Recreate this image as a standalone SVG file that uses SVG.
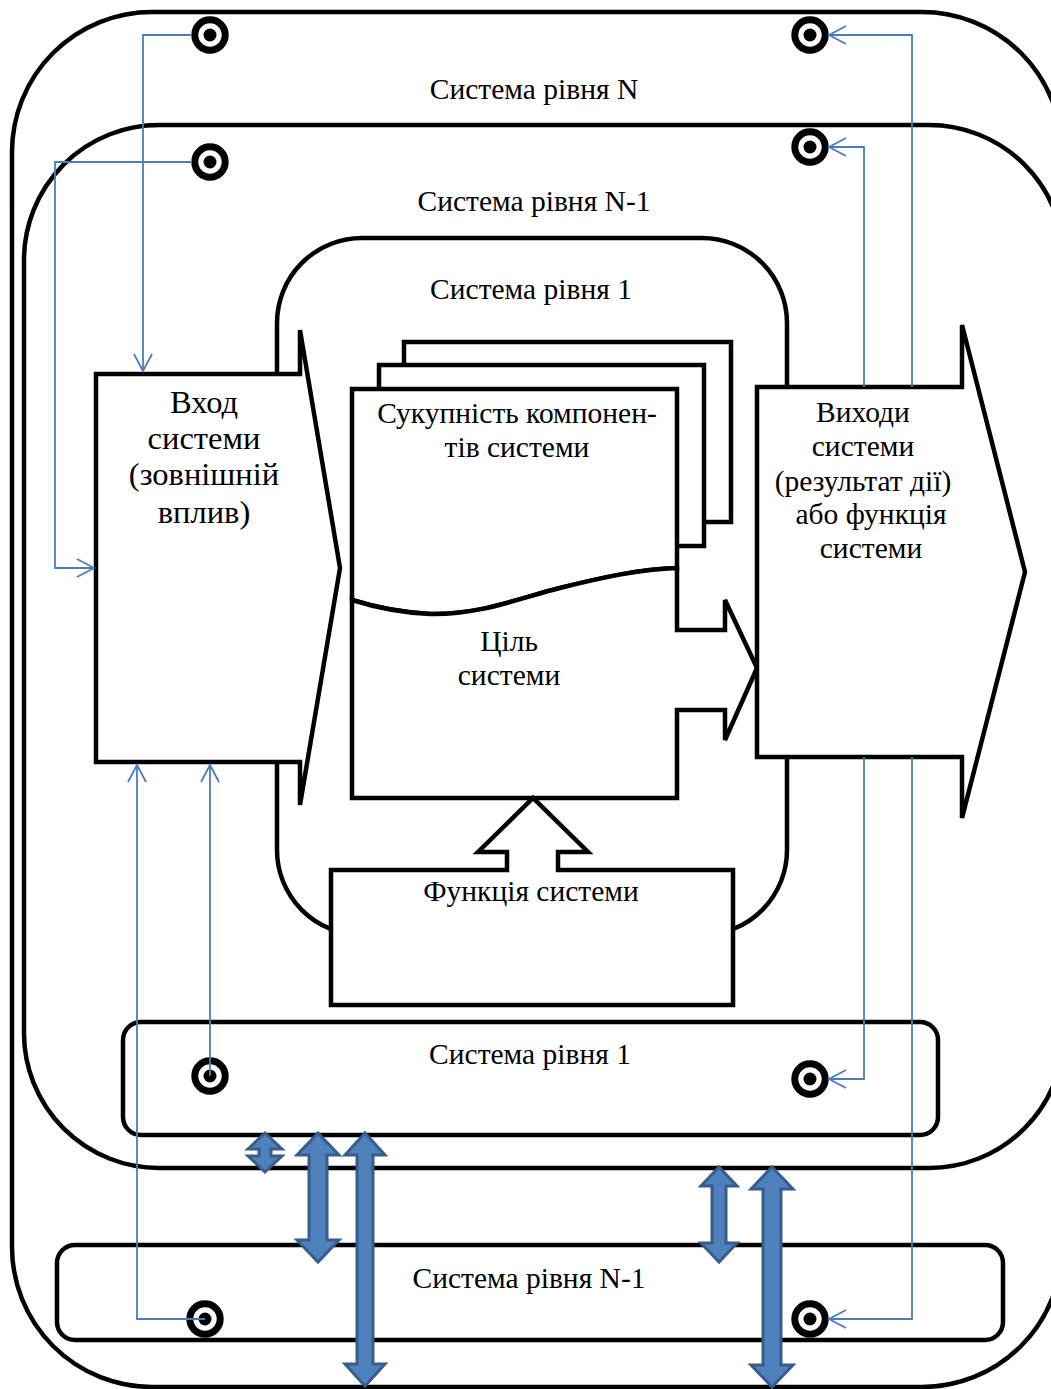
<svg xmlns="http://www.w3.org/2000/svg" width="1051" height="1389" viewBox="0 0 1051 1389">
<defs>
<style>
.b{fill:#fff;stroke:#000;stroke-width:4.5;stroke-linejoin:miter}
.c{fill:none;stroke:#4a7ebb;stroke-width:1.8}
.d{fill:#4f81bd;stroke:#385d8a;stroke-width:3;stroke-linejoin:miter}
.t{font-family:"Liberation Serif","Times New Roman",serif;font-size:29.5px;fill:#000;text-anchor:middle}
.L{font-size:32.5px}
</style>
<marker id="ah" viewBox="-20 -11 22 22" refX="0" refY="0" markerWidth="22" markerHeight="22" markerUnits="userSpaceOnUse" orient="auto">
<path d="M-17,-9 L0,0 L-17,9" fill="none" stroke="#4a7ebb" stroke-width="1.8"/>
</marker>
<g id="term">
<circle r="15.2" fill="#fff" stroke="#000" stroke-width="7"/>
<circle r="6.5" fill="#000"/>
</g>
</defs>
<rect width="1051" height="1389" fill="#fff"/>

<g id="sysN"><rect class="b" x="12" y="12" width="1050" height="1375" rx="140"/></g>
<g id="sysN1"><rect class="b" x="24" y="125" width="1040" height="1043" rx="135"/></g>
<g id="bar1"><rect class="b" x="123" y="1022" width="815" height="113" rx="18"/></g>
<g id="barN1"><rect class="b" x="57" y="1245" width="946" height="95" rx="18"/></g>
<g id="sys1"><rect class="b" x="277" y="238" width="510" height="697" rx="85"/></g>

<g id="components">
<rect class="b" x="404" y="342" width="327" height="180"/>
<rect class="b" x="379" y="365" width="325" height="181"/>
<path class="b" d="M352,389 H677 V568 C640,569 600,578 560,588 C520,598 480,615 430,614 Q390,612 352,600 Z"/>
</g>
<g id="goal">
<path class="b" d="M352,600 Q390,612 430,614 C480,615 520,598 560,588 C600,578 640,569 677,568 V630 H725 V600 L757,668 L725,740 V710 H677 V798 H352 Z"/>
</g>
<g id="input"><path class="b" d="M96,374 H300 V330 L340,568 L300,805 V762 H96 Z"/></g>
<g id="output"><path class="b" d="M757,387 H962 V325 L1025,572 L962,818 V757 H757 Z"/></g>
<g id="function"><path class="b" d="M331,870 H507 V852 H478 L533,798 L588,852 H558 V870 H733 V1005 H331 Z"/></g>

<g id="terminals">
<use href="#term" x="210" y="35"/>
<use href="#term" x="810" y="35"/>
<use href="#term" x="210" y="162"/>
<use href="#term" x="810" y="147"/>
<use href="#term" x="210" y="1076"/>
<use href="#term" x="810" y="1079"/>
<use href="#term" x="205" y="1319"/>
<use href="#term" x="810" y="1319"/>
</g>

<g id="connectors">
<path class="c" d="M192,35 H143 V371" marker-end="url(#ah)"/>
<path class="c" d="M192,162 H55 V568 H94" marker-end="url(#ah)"/>
<path class="c" d="M205,1319 H137 V765" marker-end="url(#ah)"/>
<path class="c" d="M210,1076 V765" marker-end="url(#ah)"/>
<path class="c" d="M912,387 V35 H829" marker-end="url(#ah)"/>
<path class="c" d="M864,387 V147 H829" marker-end="url(#ah)"/>
<path class="c" d="M864,757 V1079 H829" marker-end="url(#ah)"/>
<path class="c" d="M912,757 V1319 H829" marker-end="url(#ah)"/>
<polygon class="d" points="265,1133 282,1149 271,1149 271,1156 282,1156 265,1172 248,1156 259,1156 259,1149 248,1149"/>
<polygon class="d" points="318,1133 339,1155 327,1155 327,1240 339,1240 318,1262 297,1240 309,1240 309,1155 297,1155"/>
<polygon class="d" points="365,1133 385,1155 373,1155 373,1364 385,1364 365,1386 345,1364 357,1364 357,1155 345,1155"/>
<polygon class="d" points="719,1167 737,1186 726,1186 726,1243 737,1243 719,1262 701,1243 712,1243 712,1186 701,1186"/>
<polygon class="d" points="772,1167 793,1189 781,1189 781,1365 793,1365 772,1387 751,1365 763,1365 763,1189 751,1189"/>
</g>

<g id="labels">
<text class="t" x="534" y="99">Система рівня N</text>
<text class="t" x="534" y="211">Система рівня N-1</text>
<text class="t" x="531" y="299">Система рівня 1</text>
<text class="t" x="517" y="423">Сукупність компонен-</text>
<text class="t" x="517" y="457">тів системи</text>
<text class="t L" x="204" y="413">Вход</text>
<text class="t L" x="204" y="449">системи</text>
<text class="t L" x="204" y="485">(зовнішній</text>
<text class="t L" x="204" y="523">вплив)</text>
<text class="t" x="863" y="422">Виходи</text>
<text class="t" x="863" y="456">системи</text>
<text class="t" x="863" y="491">(результат дії)</text>
<text class="t" x="871" y="524">або функція</text>
<text class="t" x="871" y="558">системи</text>
<text class="t" x="509" y="651">Ціль</text>
<text class="t" x="509" y="685">системи</text>
<text class="t" x="531" y="901">Функція системи</text>
<text class="t" x="530" y="1064">Система рівня 1</text>
<text class="t" x="529" y="1288">Система рівня N-1</text>
</g>
</svg>
